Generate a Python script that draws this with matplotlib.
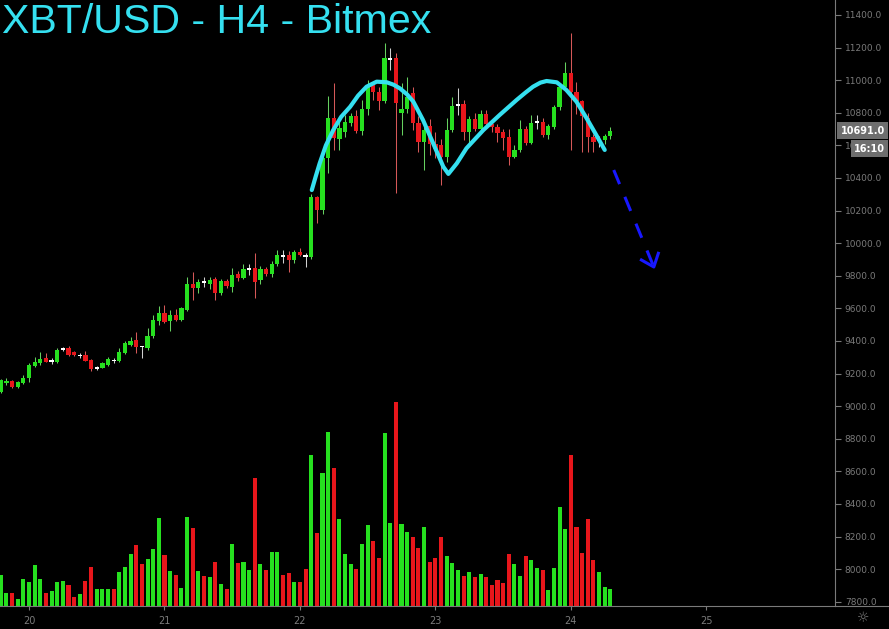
import matplotlib
matplotlib.use("Agg")
import matplotlib.pyplot as plt
import matplotlib.transforms as mtransforms
from matplotlib.lines import Line2D
import numpy as np

# hourly candles, hour 0 = day 20 00:00
hours = np.arange(-5, 104)

opens = [
    9090, 9140, 9156, 9116, 9140, 9172, 9246, 9263, 9298, 9277,
    9270, 9349, 9355, 9334, 9310, 9314, 9283, 9236, 9236, 9253,
    9281, 9279, 9325, 9375, 9406, 9367, 9355, 9430, 9525, 9570,
    9525, 9560, 9530, 9590, 9748, 9727, 9760, 9748, 9778, 9693,
    9770, 9733, 9809, 9788, 9842, 9846, 9774, 9840, 9811, 9872,
    9923, 9927, 9897, 9948, 9923, 9917, 10285, 10204, 10521, 10766,
    10637, 10684, 10739, 10780, 10690, 10821, 10970, 10929, 10874, 11130,
    11134, 10797, 10821, 10920, 10735, 10623, 10720, 10610, 10600, 10527,
    10695, 10848, 10854, 10684, 10762, 10699, 10793, 10731, 10715, 10684,
    10653, 10531, 10572, 10699, 10617, 10742, 10745, 10664, 10715, 10837,
    10960, 11042, 10930, 10870, 10770, 10650, 10630, 10630, 10660,
]
highs = [
    9165, 9175, 9162, 9155, 9191, 9263, 9304, 9331, 9325, 9294,
    9355, 9365, 9371, 9340, 9326, 9339, 9290, 9248, 9268, 9300,
    9294, 9355, 9400, 9426, 9453, 9372, 9478, 9560, 9615, 9621,
    9590, 9595, 9610, 9794, 9825, 9780, 9790, 9790, 9790, 9780,
    9780, 9848, 9830, 9870, 9875, 9940, 9860, 9855, 9890, 9958,
    9958, 9950, 9958, 9970, 9940, 10300, 10290, 10541, 10903, 10981,
    10776, 10787, 10800, 10817, 10879, 11001, 10991, 10960, 11226, 11196,
    11165, 10981, 11022, 10960, 10780, 10740, 10760, 10680, 10640, 10766,
    10899, 10950, 10879, 10780, 10799, 10820, 10820, 10745, 10730, 10700,
    10700, 10600, 10756, 10720, 10787, 10787, 10770, 10730, 10850, 10980,
    11114, 11288, 10990, 10880, 10800, 10670, 10660, 10670, 10715,
]
lows = [
    9080, 9130, 9110, 9110, 9135, 9150, 9240, 9255, 9268, 9259,
    9262, 9340, 9310, 9305, 9298, 9275, 9218, 9225, 9232, 9248,
    9265, 9272, 9318, 9368, 9324, 9295, 9345, 9420, 9500, 9510,
    9463, 9520, 9525, 9585, 9652, 9696, 9730, 9720, 9652, 9685,
    9725, 9702, 9770, 9780, 9805, 9662, 9750, 9800, 9790, 9860,
    9880, 9825, 9877, 9920, 9856, 9900, 10122, 10180, 10429, 10572,
    10572, 10653, 10720, 10674, 10664, 10787, 10879, 10817, 10858, 11062,
    10306, 10664, 10800, 10694, 10561, 10449, 10540, 10520, 10357, 10500,
    10680, 10787, 10633, 10600, 10690, 10690, 10720, 10682, 10621, 10572,
    10480, 10520, 10560, 10600, 10610, 10700, 10650, 10640, 10700, 10820,
    10950, 10572, 10790, 10560, 10560, 10560, 10590, 10610, 10640,
]
closes = [
    9160, 9156, 9116, 9150, 9172, 9253, 9273, 9288, 9273, 9277,
    9345, 9349, 9314, 9314, 9310, 9279, 9226, 9236, 9263, 9288,
    9279, 9334, 9386, 9402, 9365, 9365, 9430, 9529, 9574, 9518,
    9558, 9530, 9600, 9748, 9727, 9764, 9758, 9774, 9696, 9770,
    9739, 9805, 9785, 9842, 9842, 9764, 9840, 9811, 9872, 9927,
    9921, 9897, 9948, 9927, 9921, 10285, 10204, 10521, 10766, 10643,
    10705, 10745, 10780, 10690, 10821, 10970, 10929, 10874, 11134, 11130,
    10858, 10821, 10899, 10735, 10623, 10695, 10610, 10580, 10527, 10695,
    10842, 10848, 10684, 10762, 10699, 10793, 10731, 10711, 10678, 10643,
    10531, 10572, 10699, 10617, 10739, 10742, 10664, 10719, 10837, 10960,
    11042, 10930, 10870, 10780, 10650, 10620, 10630, 10660, 10691,
]
volume = [
    31, 13, 13, 7, 27, 24, 41, 27, 13, 15,
    24, 25, 21, 9, 12, 25, 39, 17, 17, 17,
    17, 34, 39, 52, 61, 42, 47, 57, 88, 51,
    35, 31, 18, 89, 78, 35, 30, 29, 44, 22,
    17, 62, 43, 44, 36, 128, 42, 36, 54, 54,
    31, 33, 24, 24, 37, 151, 73, 133, 174, 138,
    87, 52, 42, 37, 62, 81, 65, 48, 173, 83,
    204, 82, 74, 69, 58, 79, 44, 48, 69, 50,
    43, 36, 30, 34, 29, 32, 29, 21, 26, 23,
    52, 42, 30, 50, 46, 38, 36, 16, 38, 99,
    77, 151, 79, 53, 87, 46, 34, 19, 17,
]

# hand drawn double top and projected move
pattern_h = [50.1, 50.8, 51.5, 52.6, 53.9, 55.3, 56.9, 58.3, 59.8, 61.6, 63.4, 64.6, 65.7, 67.0, 68.1,
             69.8, 71.6, 73.4, 74.3, 75.8, 77.5, 80.5, 83.4, 86.4, 88.0, 89.3, 90.6, 91.7, 93.5,
             95.2, 97.0, 98.8, 100.5, 102.0]
pattern_p = [10326, 10410, 10490, 10600, 10694, 10775, 10837, 10905, 10960, 10991, 10987, 10972, 10950,
             10912, 10868, 10756, 10613, 10469, 10425, 10490, 10582, 10694, 10787, 10879, 10925,
             10960, 10985, 10995, 10987, 10940, 10868, 10766, 10664, 10572]
proj_h = [103.6, 110.7]
proj_p = [10449, 9854]
head_h = [108.5, 110.7, 111.5]
head_p = [9897, 9854, 9938]

day_ticks = [0, 24, 48, 72, 96, 120]
day_labels = ["20", "21", "22", "23", "24", "25"]
price_ticks = np.arange(7800, 11401, 200)

GREEN, RED = "#26e01f", "#e8161b"
CYAN, GRAY = "#35e0f0", "#7a7a7a"

W, H = 889, 629
fig = plt.figure(figsize=(W / 100, H / 100), dpi=100, facecolor="black")
left, right, bottom = 0.0, 835 / W, 23 / H
ax = fig.add_axes([left, bottom, right - left, 1 - bottom])
ax.set_facecolor("black")
vax = ax.twinx()
vax.set_ylim(0, 606)
vax.set_yticks([])
ax.set_zorder(vax.get_zorder() + 1)
ax.patch.set_visible(False)

o, h, l, c = map(np.array, (opens, highs, lows, closes))
vol = np.array(volume)
up = c >= o
doji = np.abs(c - o) <= 3

# volume
vax.bar(hours, vol, width=0.72, color=np.where(up, GREEN, RED), linewidth=0)

# wicks + bodies
wick_col = np.where(doji, "#d0d0d0", np.where(up, "#66d060", "#d55858"))
ax.vlines(hours, l, h, colors=wick_col, linewidth=0.75, zorder=2)
body_col = np.where(doji, "white", np.where(up, GREEN, RED))
body_lo = np.minimum(o, c)
body_h = np.maximum(np.abs(c - o), 10)
ax.bar(hours, body_h, bottom=np.where(doji, o - 5, body_lo), width=0.75,
       color=body_col, linewidth=0, zorder=3)

# annotations
ax.plot(pattern_h, pattern_p, color=CYAN, lw=3.0, solid_capstyle="round",
        solid_joinstyle="round", zorder=5)
ax.plot(proj_h, proj_p, color="#1818ff", lw=2.2, linestyle=(0, (5, 4.5)), zorder=5)
ax.plot(head_h, head_p, color="#1818ff", lw=2.2, zorder=5)

ax.set_xlim(-5.14, 142.8)
ax.set_ylim(7774, 11492)

for sp in ("top", "left"):
    ax.spines[sp].set_visible(False)
    vax.spines[sp].set_visible(False)
for sp in ("right", "bottom"):
    ax.spines[sp].set_color(GRAY)
    ax.spines[sp].set_linewidth(0.8)
    vax.spines[sp].set_visible(False)
fig.add_artist(Line2D([right, 1], [bottom, bottom], transform=fig.transFigure,
                      color=GRAY, lw=0.8))

ax.yaxis.tick_right()
ax.set_yticks(price_ticks)
ax.set_yticklabels([f"{p:.1f}" for p in price_ticks])
ax.tick_params(axis="y", colors=GRAY, labelsize=6.5, length=4, width=0.8, pad=3)
ax.set_xticks(day_ticks)
ax.set_xticklabels(day_labels)
ax.tick_params(axis="x", colors=GRAY, labelsize=7, length=3, width=0.8, pad=4)

# last price and countdown boxes, flush with the right edge
trans = mtransforms.blended_transform_factory(fig.transFigure, ax.transData)
box = dict(boxstyle="square,pad=0.35", fc="#6e6e6e", ec="none")
ax.text(0.9955, closes[-1], f"{closes[-1]:.1f}", transform=trans, color="white",
        fontsize=7, fontweight="bold", va="center", ha="right", clip_on=False, zorder=10,
        bbox=box)
cd_trans = mtransforms.offset_copy(trans, fig=fig, x=0, y=-13, units="points")
ax.text(0.9955, closes[-1], "16:10", transform=cd_trans, color="white",
        fontsize=7, fontweight="bold", va="center", ha="right", clip_on=False, zorder=10,
        bbox=dict(boxstyle="square,pad=0.35", fc="#6e6e6e", ec="none"))

fig.text(0.002, 1 - 33 / H, "XBT/USD - H4 - Bitmex", color=CYAN, fontsize=29.6,
         family="Liberation Sans", va="baseline", ha="left")
fig.text(0.971, 0.017, "\u263c", color=GRAY, fontsize=10, ha="center", va="center")

fig.savefig("out.png", dpi=100, facecolor="black")
